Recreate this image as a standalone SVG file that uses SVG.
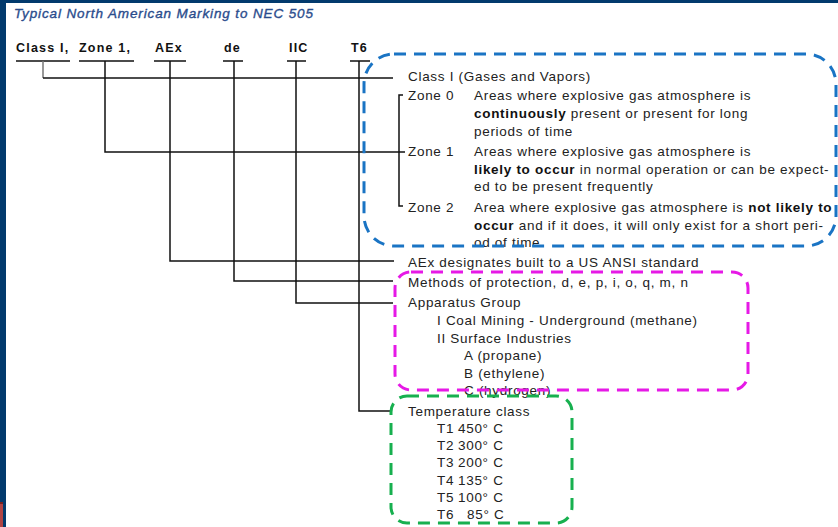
<svg xmlns="http://www.w3.org/2000/svg" width="838" height="527" viewBox="0 0 838 527">
<style>
.t{font-family:"Liberation Sans",Arial,sans-serif;font-size:13.5px;letter-spacing:0.7px;fill:#222}
.b{font-weight:bold;fill:#111}
.h{font-family:"Liberation Sans",Arial,sans-serif;font-size:12.5px;font-weight:bold;letter-spacing:1.2px;fill:#111}
.c{stroke:#111;stroke-width:1.5;fill:none}
.box{fill:none;stroke-width:3;stroke-dasharray:12 8}
</style>
<rect x="0" y="0" width="838" height="527" fill="#fff"/>
<rect x="0" y="0" width="838" height="3" fill="#023a6d"/>
<rect x="0" y="0" width="6" height="527" fill="#023a6d"/>
<rect x="0" y="502" width="3" height="25" fill="#b04444"/>
<rect x="0" y="502" width="3" height="2" fill="#7a1f1f"/>
<text x="14" y="18" font-family="Liberation Sans,Arial,sans-serif" font-style="italic" font-size="13.5" fill="#2a4c8c" stroke="#2a4c8c" stroke-width="0.35" textLength="299">Typical North American Marking to NEC 505</text>

<g id="header">
<g id="h-class"><text class="h" x="16" y="52">Class I,</text></g>
<g id="h-zone"><text class="h" x="79" y="52">Zone 1,</text></g>
<g id="h-aex"><text class="h" x="155" y="52">AEx</text></g>
<g id="h-de"><text class="h" x="224" y="52">de</text></g>
<g id="h-iic"><text class="h" x="289" y="52">IIC</text></g>
<g id="h-t6"><text class="h" x="351" y="52">T6</text></g>
</g>

<g id="connectors">
<path class="c" d="M16 61H70M79 61H134M154 61H186M223 61H243M287 61H306M350 61H370"/>
<path d="M43 61V78" stroke="#777" stroke-width="1.5" fill="none"/>
<path class="c" d="M43 78H393"/>
<path class="c" d="M105 61V152H405"/>
<path class="c" d="M403 95H399V206H403"/>
<path class="c" d="M170 61V261H394"/>
<path class="c" d="M234 61V281H393"/>
<path class="c" d="M296 61V303H393"/>
<path class="c" d="M359 61V411H391"/>
</g>

<g id="class-node"><text class="t" x="408" y="81">Class I (Gases and Vapors)</text></g>
<g id="zone0">
<text class="t" x="408" y="100">Zone 0</text>
<text class="t" x="474" y="100">Areas where explosive gas atmosphere is</text>
<text class="t" x="474" y="118"><tspan class="b">continuously</tspan> present or present for long</text>
<text class="t" x="474" y="136">periods of time</text>
</g>
<g id="zone1">
<text class="t" x="408" y="156">Zone 1</text>
<text class="t" x="474" y="156">Areas where explosive gas atmosphere is</text>
<text class="t" x="474" y="174"><tspan class="b">likely to occur</tspan> in normal operation or can be expect-</text>
<text class="t" x="474" y="191">ed to be present frequently</text>
</g>
<g id="zone2">
<text class="t" x="408" y="212">Zone 2</text>
<text class="t" x="474" y="212">Area where explosive gas atmosphere is <tspan class="b">not likely to</tspan></text>
<text class="t" x="474" y="230"><tspan class="b">occur</tspan> and if it does, it will only exist for a short peri-</text>
<text class="t" x="474" y="247">od of time</text>
</g>
<g id="aex-node"><text class="t" x="408" y="267">AEx designates built to a US ANSI standard</text></g>
<g id="methods-node"><text class="t" x="408" y="287">Methods of protection, d, e, p, i, o, q, m, n</text></g>
<g id="apparatus-node">
<text class="t" x="408" y="307">Apparatus Group</text>
<text class="t" x="437" y="325">I Coal Mining - Underground (methane)</text>
<text class="t" x="437" y="343">II Surface Industries</text>
<text class="t" x="464" y="360">A (propane)</text>
<text class="t" x="464" y="378">B (ethylene)</text>
<text class="t" x="464" y="395">C (hydrogen)</text>
</g>
<g id="temp-node">
<text class="t" x="408" y="416">Temperature class</text>
<text class="t" x="437" y="433">T1</text><text class="t" x="458" y="433">450° C</text>
<text class="t" x="437" y="450">T2</text><text class="t" x="458" y="450">300° C</text>
<text class="t" x="437" y="467">T3</text><text class="t" x="458" y="467">200° C</text>
<text class="t" x="437" y="485">T4</text><text class="t" x="458" y="485">135° C</text>
<text class="t" x="437" y="502">T5</text><text class="t" x="458" y="502">100° C</text>
<text class="t" x="437" y="519">T6</text><text class="t" x="467" y="519">85° C</text>
</g>

<g id="boxes">
<rect class="box" x="364" y="54" width="472" height="192" rx="30" stroke="#1a74c4"/>
<rect class="box" x="395" y="272" width="353" height="118" rx="16" stroke="#e619e6"/>
<rect class="box" x="391" y="396" width="181" height="127" rx="16" stroke="#17b04f"/>
</g>
</svg>
